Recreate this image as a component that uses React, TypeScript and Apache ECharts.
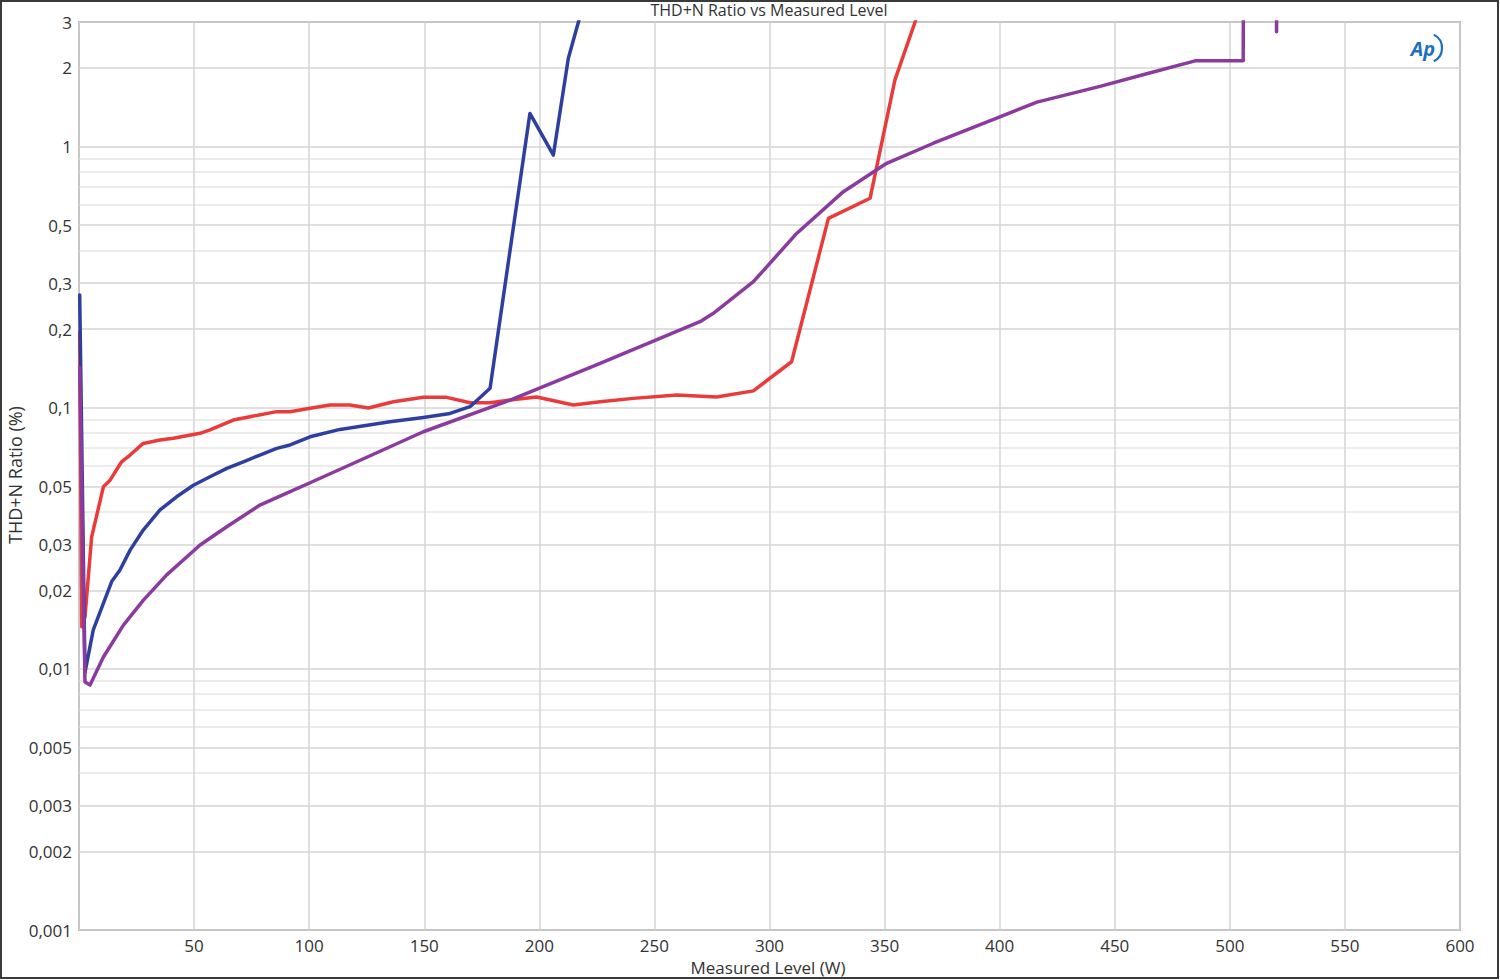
import React, { useEffect, useRef } from "react";
import * as echarts from "echarts";

// ---- Data ----
const redLevel = [0.3, 1.2, 2.6, 5.5, 10.6, 13.5, 18.5, 22.2, 27.9, 35.2, 41, 52.6, 56.9, 67, 74.3, 85.9, 91.7, 100.4, 109, 117.7, 125.7, 136.6, 149.6, 159.7, 169.9, 178.6, 187.3, 198.8, 214.8, 226.4, 240.8, 259.7, 277, 293, 309.6, 325.6, 343.7, 354.5, 372];
const redThd = [0.195, 0.0145, 0.0158, 0.032, 0.0498, 0.0528, 0.0621, 0.0659, 0.073, 0.0752, 0.0764, 0.0798, 0.0822, 0.0897, 0.0924, 0.0966, 0.0965, 0.0995, 0.1024, 0.1024, 0.0998, 0.1054, 0.1096, 0.1096, 0.1045, 0.1045, 0.107, 0.11, 0.1024, 0.1054, 0.1086, 0.1118, 0.11, 0.116, 0.15, 0.531, 0.634, 1.8, 5];

const blueLevel = [0.3, 2.6, 6.2, 14.2, 17.8, 22.2, 27.9, 35.2, 42.4, 49.7, 56.9, 64.2, 71.4, 78.6, 85.9, 91.7, 100.4, 113.4, 135.1, 149.6, 161.2, 169.9, 178.6, 195.9, 206.1, 212.6, 224];
const blueThd = [0.27, 0.0097, 0.0141, 0.0216, 0.0239, 0.0285, 0.034, 0.0406, 0.0456, 0.0505, 0.0544, 0.0586, 0.0621, 0.0659, 0.0699, 0.072, 0.0774, 0.0826, 0.0884, 0.0918, 0.0951, 0.1009, 0.1187, 1.34, 0.928, 2.18, 5];

const purpleLevel = [0.3, 2.6, 4.8, 10.6, 19.3, 27.9, 38.1, 52.6, 64.2, 78.6, 91.7, 100.4, 120, 149.6, 187.3, 226.4, 269.8, 275.6, 293, 311.8, 332.1, 350.9, 371.2, 400.1, 416.2, 443.6, 463.9, 484.9, 505.8, 506.2, 520.1, 520.3, 520.5];
const purpleThd = [0.143, 0.0089, 0.00867, 0.0111, 0.0147, 0.0183, 0.0229, 0.0298, 0.035, 0.0424, 0.0477, 0.0516, 0.0617, 0.0809, 0.107, 0.1479, 0.2135, 0.23, 0.304, 0.465, 0.672, 0.863, 1.03, 1.3, 1.48, 1.7, 1.9, 2.13, 2.13, 20, 20, 2.75, 20];

const yLabelTicks = [0.001, 0.002, 0.003, 0.005, 0.01, 0.02, 0.03, 0.05, 0.1, 0.2, 0.3, 0.5, 1, 2, 3];
const yMinorTicks = [0.004, 0.006, 0.007, 0.008, 0.009, 0.04, 0.06, 0.07, 0.08, 0.09, 0.4, 0.6, 0.7, 0.8, 0.9];

const TITLE = "THD+N Ratio vs Measured Level";
const X_NAME = "Measured Level (W)";
const Y_NAME = "THD+N Ratio (%)";

const zip = (xs: number[], ys: number[]) => xs.map((x, i) => [x, ys[i]]);

const FONT = "'Open Sans', 'Noto Sans', sans-serif";

export default function App() {
  const ref = useRef<HTMLDivElement>(null);

  useEffect(() => {
    if (!ref.current) return;
    const chart = echarts.init(ref.current, undefined, { renderer: "svg" });

    const lineSeries = (name: string, data: number[][], color: string) => ({
      name,
      type: "line",
      data,
      xAxisIndex: 0,
      yAxisIndex: 1,
      showSymbol: false,
      symbol: "none",
      clip: true,
      lineStyle: { color, width: 3.5, join: "round", cap: "round" },
      itemStyle: { color },
      z: 3,
    });

    chart.setOption({
      animation: false,
      backgroundColor: "#ffffff",
      grid: {
        left: 79,
        right: 40,
        top: 22,
        bottom: 50,
        show: true,
        borderColor: "#7f7f7f",
        borderWidth: 1.5,
        backgroundColor: "transparent",
      },
      xAxis: {
        type: "value",
        min: 0,
        max: 600,
        interval: 50,
        axisLine: { show: false },
        axisTick: { show: false },
        axisLabel: {
          margin: 6,
          fontFamily: FONT,
          fontSize: 17,
          lineHeight: 18,
          color: "#333",
          formatter: (v: number) => (v === 0 ? "" : String(v)),
        },
        splitLine: { show: true, lineStyle: { color: "#d4d4d4", width: 1.5 } },
      },
      yAxis: [
        {
          type: "log",
          logBase: 10,
          min: 0.001,
          max: 3,
          position: "left",
          axisLine: { show: false },
          axisTick: { show: false, customValues: yMinorTicks },
          axisLabel: { show: false, customValues: yMinorTicks },
          splitLine: { show: true, lineStyle: { color: "#e6e6e6", width: 1.5 } },
        },
        {
          type: "log",
          logBase: 10,
          min: 0.001,
          max: 3,
          position: "left",
          axisLine: { show: false },
          axisTick: { show: false, customValues: yLabelTicks },
          axisLabel: {
            show: true,
            customValues: yLabelTicks,
            margin: 7,
            fontFamily: FONT,
            fontSize: 17,
            color: "#333",
            formatter: (v: number) => String(v).replace(".", ","),
          },
          splitLine: { show: true, lineStyle: { color: "#d4d4d4", width: 1.5 } },
        },
      ],
      series: [
        lineSeries("Red", zip(redLevel, redThd), "#ea3b3b"),
        lineSeries("Blue", zip(blueLevel, blueThd), "#2f3f9f"),
        lineSeries("Purple", zip(purpleLevel, purpleThd), "#8b3a9e"),
      ],
      graphic: [
        {
          type: "rect",
          shape: { x: 1, y: 1, width: 1497, height: 977 },
          style: { fill: "none", stroke: "#3a3a3a", lineWidth: 2 },
          silent: true,
        },
        {
          type: "text",
          x: 769,
          y: 10,
          style: {
            text: TITLE,
            font: `16px ${FONT}`,
            fill: "#333",
            textAlign: "center",
            textVerticalAlign: "middle",
          },
        },
        {
          type: "text",
          x: 768,
          y: 967,
          style: {
            text: X_NAME,
            font: `17px ${FONT}`,
            fill: "#333",
            textAlign: "center",
            textVerticalAlign: "middle",
          },
        },
        {
          type: "text",
          x: 15,
          y: 475,
          rotation: Math.PI / 2,
          style: {
            text: Y_NAME,
            font: `18px ${FONT}`,
            fill: "#333",
            textAlign: "center",
            textVerticalAlign: "middle",
          },
        },
        {
          type: "text",
          x: 1423,
          y: 48,
          style: {
            text: "Ap",
            font: `italic bold 20px ${FONT}`,
            fill: "#1f6fbf",
            textAlign: "center",
            textVerticalAlign: "middle",
          },
        },
        {
          type: "arc",
          shape: { cx: 1427, cy: 48, r: 15, startAngle: -1.1, endAngle: 1.1 },
          style: { stroke: "#1f6fbf", lineWidth: 2.2, fill: "none" },
        },
      ],
    });

    return () => chart.dispose();
  }, []);

  return (
    <div
      ref={ref}
      style={{ position: "absolute", left: 0, top: 0, width: 1500, height: 980, background: "#fff" }}
    />
  );
}
